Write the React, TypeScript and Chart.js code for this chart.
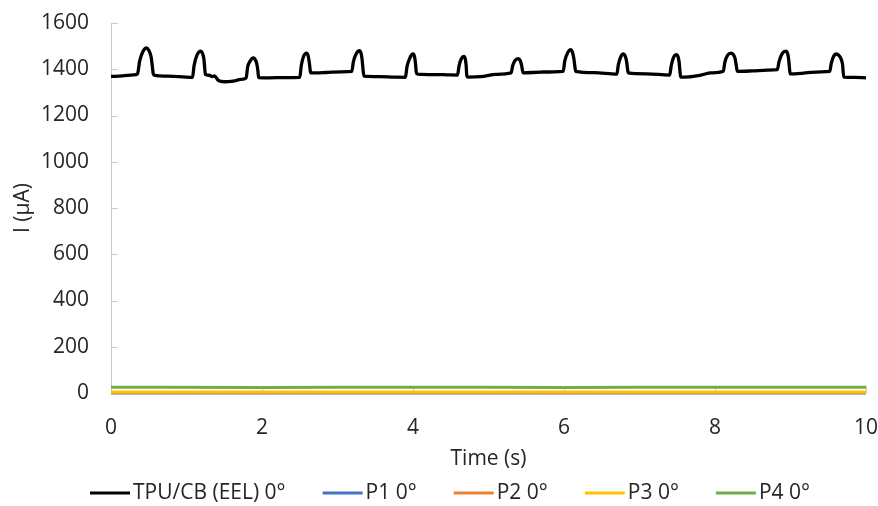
import { useEffect, useRef } from "react";
import { Chart, registerables } from "chart.js";

Chart.register(...registerables);

// ---- Data ----
const tpuTime = [
  0, 0.15, 0.3, 0.35, 0.38, 0.42, 0.47, 0.5, 0.53, 0.545, 0.56, 0.58, 0.75, 0.95,
  1.08, 1.1, 1.14, 1.19, 1.21, 1.23, 1.24, 1.25, 1.3, 1.34, 1.37, 1.42, 1.5, 1.62, 1.72,
  1.79, 1.81, 1.84, 1.885, 1.91, 1.93, 1.945, 1.955, 2.1, 2.3,
  2.5, 2.52, 2.55, 2.59, 2.61, 2.625, 2.635, 2.645, 2.85, 3.05,
  3.19, 3.21, 3.25, 3.29, 3.31, 3.325, 3.335, 3.35, 3.55, 3.75,
  3.9, 3.92, 3.96, 4.0, 4.02, 4.033, 4.043, 4.06, 4.3, 4.45,
  4.59, 4.61, 4.64, 4.675, 4.69, 4.703, 4.713, 4.73, 4.9, 5.1,
  5.3, 5.32, 5.35, 5.395, 5.42, 5.44, 5.45, 5.46, 5.7,
  5.99, 6.01, 6.05, 6.09, 6.11, 6.13, 6.143, 6.155, 6.4,
  6.7, 6.72, 6.75, 6.785, 6.81, 6.83, 6.84, 6.852, 7.1,
  7.4, 7.42, 7.45, 7.49, 7.51, 7.525, 7.535, 7.545, 7.65, 7.8, 7.95,
  8.11, 8.13, 8.17, 8.21, 8.24, 8.265, 8.28, 8.295, 8.5, 8.7,
  8.825, 8.85, 8.89, 8.94, 8.96, 8.975, 8.985, 8.995, 9.2, 9.4,
  9.52, 9.54, 9.57, 9.61, 9.64, 9.67, 9.69, 9.705, 9.85, 10.0,
];
const tpuCurrent = [
  1369, 1371, 1376, 1379, 1436, 1475, 1492, 1482, 1455, 1420, 1380, 1374, 1370, 1367,
  1365, 1415, 1462, 1478, 1470, 1445, 1410, 1378, 1374, 1368, 1371, 1352, 1346, 1349, 1356,
  1362, 1410, 1434, 1449, 1442, 1425, 1395, 1364, 1363, 1364,
  1365, 1415, 1455, 1470, 1460, 1432, 1405, 1384, 1386, 1389,
  1391, 1432, 1468, 1480, 1472, 1445, 1410, 1370, 1368, 1366,
  1365, 1410, 1450, 1466, 1455, 1425, 1388, 1379, 1377, 1376,
  1375, 1415, 1445, 1456, 1448, 1420, 1372, 1366, 1368, 1378,
  1384, 1415, 1437, 1446, 1438, 1415, 1395, 1384, 1388,
  1391, 1435, 1472, 1485, 1475, 1448, 1415, 1391, 1385,
  1379, 1420, 1452, 1466, 1458, 1432, 1405, 1384, 1380,
  1375, 1415, 1450, 1463, 1455, 1430, 1395, 1366, 1367, 1374, 1384,
  1391, 1430, 1462, 1470, 1465, 1448, 1420, 1391, 1393, 1396,
  1398, 1435, 1468, 1478, 1470, 1445, 1410, 1380, 1384, 1389,
  1391, 1425, 1455, 1466, 1460, 1445, 1420, 1366, 1365, 1363,
];

const pTime = [0, 2, 4, 6, 8, 10];
const p1Current = [0, 0, 0, 0, 0, 0];
const p2Current = [2, 2, 2, 2, 2, 2];
const p3Current = [4, 4, 4, 4, 4, 4];
const p4Current = [25, 24, 25, 24, 25, 25];

const seriesLabels = ["TPU/CB (EEL) 0°", "P1 0°", "P2 0°", "P3 0°", "P4 0°"];
const seriesColors = ["#000000", "#4472C4", "#ED7D31", "#FFC000", "#70AD47"];

const xTitle = "Time (s)";
const yTitle = "I (µA)";

const FONT_FAMILY = '"Open Sans", "Noto Sans", sans-serif';
const FONT_SIZE = 21;
const TEXT_COLOR = "#262626";
const AXIS_COLOR = "#c8c8c8";

const toPoints = (xs: number[], ys: number[]) => xs.map((x, i) => ({ x, y: ys[i] }));

const innerTicks = {
  id: "innerTicks",
  beforeDatasetsDraw(chart: any) {
    const { ctx, chartArea, scales } = chart;
    const xs = scales.x;
    const ys = scales.y;
    ctx.save();
    ctx.strokeStyle = AXIS_COLOR;
    ctx.lineWidth = 1;
    ys.ticks.forEach((t: any) => {
      const py = Math.round(ys.getPixelForValue(t.value)) + 0.5;
      ctx.beginPath();
      ctx.moveTo(chartArea.left, py);
      ctx.lineTo(chartArea.left + 7, py);
      ctx.stroke();
    });
    xs.ticks.forEach((t: any) => {
      const px = Math.round(xs.getPixelForValue(t.value)) + 0.5;
      ctx.beginPath();
      ctx.moveTo(px, chartArea.bottom);
      ctx.lineTo(px, chartArea.bottom - 7);
      ctx.stroke();
    });
    ctx.restore();
  },
};

const bottomLegend = {
  id: "bottomLegend",
  afterDraw(chart: any) {
    const ctx = chart.ctx as CanvasRenderingContext2D;
    ctx.save();
    ctx.font = `${FONT_SIZE}px ${FONT_FAMILY}`;
    const items = chart.data.datasets.map((d: any) => ({
      label: d.label as string,
      color: d.borderColor as string,
      w: ctx.measureText(d.label).width,
    }));
    const lineW = 40;
    const gap = 3;
    const spacing = 37;
    const total =
      items.reduce((s: number, it: any) => s + lineW + gap + it.w, 0) +
      spacing * (items.length - 1);
    let x = 450 - total / 2;
    const y = 493;
    ctx.textBaseline = "middle";
    ctx.textAlign = "left";
    items.forEach((it: any) => {
      ctx.fillStyle = it.color;
      ctx.fillRect(x, y - 1.5, lineW, 3);
      x += lineW + gap;
      ctx.fillStyle = TEXT_COLOR;
      ctx.fillText(it.label, x, y);
      x += it.w + spacing;
    });
    ctx.restore();
  },
};

export default function App() {
  const canvasRef = useRef<HTMLCanvasElement | null>(null);

  useEffect(() => {
    document.body.style.margin = "0";
    const canvas = canvasRef.current;
    if (!canvas) return;
    const font = { family: FONT_FAMILY, size: FONT_SIZE };
    const lineDs = (idx: number, data: any[], order: number) => ({
      label: seriesLabels[idx],
      data,
      borderColor: seriesColors[idx],
      backgroundColor: seriesColors[idx],
      borderWidth: idx === 0 ? 3.3 : 3,
      pointRadius: 0,
      fill: false,
      clip: false as any,
      order,
      cubicInterpolationMode: "monotone" as const,
    });

    const chart = new Chart(canvas, {
      type: "line",
      data: {
        datasets: [
          lineDs(0, toPoints(tpuTime, tpuCurrent), 0),
          lineDs(1, toPoints(pTime, p1Current), 4),
          lineDs(2, toPoints(pTime, p2Current), 3),
          lineDs(3, toPoints(pTime, p3Current), 2),
          lineDs(4, toPoints(pTime, p4Current), 1),
        ],
      },
      options: {
        animation: false,
        responsive: false,
        layout: { padding: { left: 0, right: 12, top: 23, bottom: 0 } },
        plugins: {
          legend: { display: false },
          tooltip: { enabled: false },
        },
        scales: {
          x: {
            type: "linear",
            min: 0,
            max: 10,
            ticks: {
              stepSize: 2,
              padding: 0,
              font,
              color: TEXT_COLOR,
              callback: (v: any) => String(v),
            },
            grid: {
              display: true,
              drawOnChartArea: false,
              drawTicks: true,
              tickLength: 22,
              tickColor: "rgba(0,0,0,0)",
            },
            border: { color: AXIS_COLOR, width: 1 },
            title: {
              display: true,
              text: xTitle,
              font,
              color: TEXT_COLOR,
              padding: { top: 0, bottom: 34 },
            },
            afterFit: (s: any) => {
              s.height = 113;
            },
          },
          y: {
            type: "linear",
            min: 0,
            max: 1600,
            ticks: {
              stepSize: 200,
              padding: 0,
              font,
              color: TEXT_COLOR,
              callback: (v: any) => String(v),
            },
            grid: {
              display: true,
              drawOnChartArea: false,
              drawTicks: true,
              tickLength: 22,
              tickColor: "rgba(0,0,0,0)",
            },
            border: { color: AXIS_COLOR, width: 1 },
            title: {
              display: true,
              text: yTitle,
              font,
              color: TEXT_COLOR,
              padding: { top: 10, bottom: 0 },
            },
            afterFit: (s: any) => {
              s.width = 111;
            },
          },
        },
      },
      plugins: [innerTicks, bottomLegend],
    });
    return () => chart.destroy();
  }, []);

  return (
    <div style={{ width: 878, height: 506 }}>
      <canvas ref={canvasRef} width={878} height={506} style={{ display: "block" }} />
    </div>
  );
}
